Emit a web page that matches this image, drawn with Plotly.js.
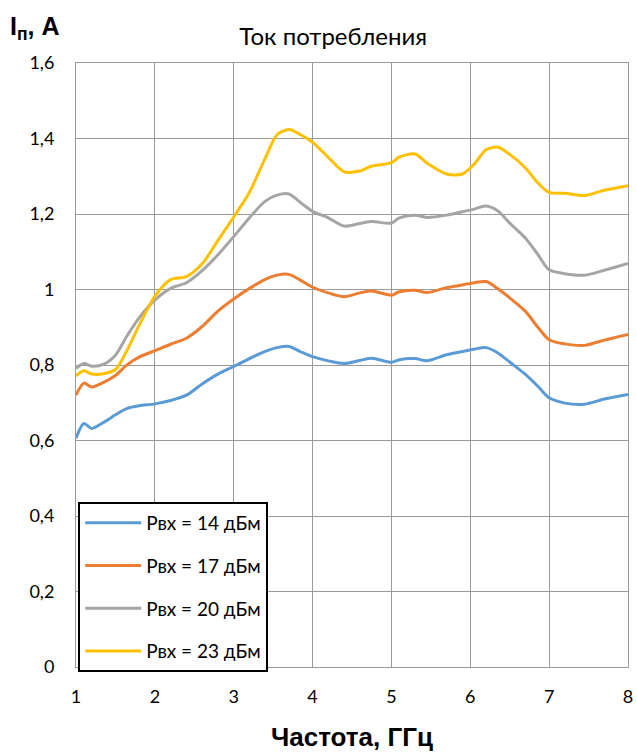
<!DOCTYPE html>
<html><head><meta charset="utf-8">
<script src="https://cdn.plot.ly/plotly-3.0.1.min.js"></script>
<style>html,body{margin:0;padding:0;background:#fff}#chart{width:637px;height:753px}</style>
</head><body><div id="chart"></div>
<script>
const freq = [1, 1.1, 1.2, 1.35, 1.5, 1.65, 1.8, 2, 2.2, 2.4, 2.6, 2.8, 3, 3.2, 3.4, 3.55, 3.7, 3.85, 4, 4.2, 4.4, 4.6, 4.75, 5, 5.1, 5.3, 5.45, 5.7, 5.9, 6.05, 6.2, 6.35, 6.5, 6.7, 6.85, 7, 7.2, 7.45, 7.7, 8];
const p14 = [0.606,0.645,0.632,0.648,0.668,0.685,0.692,0.697,0.706,0.720,0.750,0.776,0.796,0.817,0.836,0.846,0.849,0.835,0.822,0.811,0.804,0.812,0.818,0.807,0.814,0.817,0.811,0.827,0.836,0.842,0.846,0.832,0.808,0.775,0.745,0.713,0.699,0.696,0.710,0.722];
const p17 = [0.720,0.752,0.742,0.754,0.772,0.801,0.821,0.838,0.855,0.871,0.902,0.943,0.975,1.003,1.027,1.038,1.040,1.024,1.006,0.991,0.981,0.991,0.996,0.985,0.994,0.998,0.992,1.005,1.012,1.018,1.021,1.002,0.978,0.942,0.902,0.867,0.856,0.852,0.866,0.881];
const p20 = [0.791,0.804,0.797,0.802,0.826,0.878,0.925,0.972,1.003,1.018,1.050,1.092,1.140,1.190,1.234,1.250,1.253,1.230,1.207,1.190,1.168,1.175,1.180,1.176,1.190,1.197,1.191,1.197,1.206,1.213,1.221,1.208,1.176,1.136,1.095,1.052,1.042,1.038,1.051,1.069];
const p23 = [0.771,0.785,0.776,0.777,0.788,0.840,0.905,0.982,1.026,1.034,1.068,1.130,1.192,1.258,1.348,1.410,1.424,1.410,1.390,1.350,1.312,1.314,1.327,1.336,1.351,1.359,1.335,1.306,1.306,1.332,1.370,1.377,1.358,1.322,1.284,1.257,1.255,1.249,1.263,1.275];
const names = ['Рвх = 14 дБм','Рвх = 17 дБм','Рвх = 20 дБм','Рвх = 23 дБм'];
const colors = ['#5B9BD5','#ED7D31','#A5A5A5','#FFC000'];
const series = [p14,p17,p20,p23];

const font = 'Lato, "Open Sans", sans-serif';
const boldFont = '"Liberation Sans Narrow", "Liberation Sans", sans-serif';
const traces = series.map((s,i)=>({
  x: freq, y: s, type:'scatter', mode:'lines', name: names[i],
  line:{color:colors[i], width:3, shape:'spline', smoothing:0.8},
  legendgroup:'g'+i
}));

const layout = {
  width:637, height:753,
  margin:{l:76, r:9, t:63, b:86},
  paper_bgcolor:'#fff', plot_bgcolor:'#fff',
  separators:', ',
  font:{family:font, size:18, color:'#000'},
  title:{text:'Ток потребления', font:{family:font, size:24, color:'#000'}, xref:'container', x:0.523, xanchor:'center', y:1-37/753, yanchor:'middle'},
  xaxis:{range:[1,8], dtick:1, tick0:1, showgrid:true, gridcolor:'#9a9a9a', gridwidth:1,
    showline:true, linecolor:'#9a9a9a', linewidth:1, mirror:true, zeroline:false,
    ticks:'', ticklabelstandoff:13, tickfont:{family:font, size:18},
    title:{text:'<b>Частота, ГГц</b>', font:{family:boldFont, size:26}, standoff:22}},
  yaxis:{range:[0,1.6], dtick:0.2, tick0:0, showgrid:true, gridcolor:'#9a9a9a', gridwidth:1,
    showline:true, linecolor:'#9a9a9a', linewidth:1, mirror:true, zeroline:false,
    ticks:'', ticklabelstandoff:17, tickfont:{family:font, size:18}},
  legend:{x:0.004, xanchor:'left', y:(667-502)/604, yanchor:'top', bordercolor:'#000', borderwidth:2,
    bgcolor:'#fff', font:{family:font, size:19}, traceorder:'grouped', tracegroupgap:15, itemwidth:56},
  showlegend:true,
  annotations:[{text:'<b>I<sub>п</sub>, A</b>', xref:'paper', yref:'paper', x:(8-76)/552, xanchor:'left', y:(667-28)/604, yanchor:'middle', showarrow:false,
    font:{family:boldFont, size:25, color:'#000'}}]
};
Plotly.newPlot('chart', traces, layout, {displayModeBar:false, staticPlot:true});
</script></body></html>
